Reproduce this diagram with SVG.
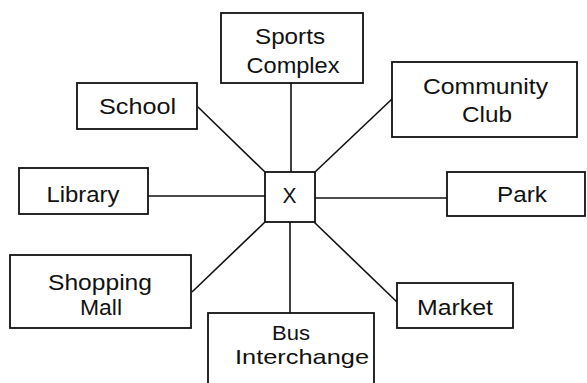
<svg xmlns="http://www.w3.org/2000/svg" width="587" height="383" viewBox="0 0 587 383">
<style>
.box{fill:#fff;stroke:#111;stroke-width:1.8}
.ln{stroke:#111;stroke-width:1.6;fill:none}
text{font-family:"Liberation Sans",Arial,sans-serif;font-size:22px;fill:#111;text-anchor:middle}
.sm{font-size:21px}
</style>
<rect width="587" height="383" fill="#fff"/>
<g id="connectors">
<line class="ln" x1="291" y1="83" x2="291" y2="172"/>
<line class="ln" x1="198" y1="107" x2="265" y2="172"/>
<line class="ln" x1="148" y1="196" x2="265" y2="196"/>
<line class="ln" x1="392" y1="99" x2="315" y2="172"/>
<line class="ln" x1="315" y1="198" x2="447" y2="198"/>
<line class="ln" x1="192" y1="292" x2="265" y2="222"/>
<line class="ln" x1="290" y1="222" x2="290" y2="313"/>
<line class="ln" x1="314" y1="222" x2="397" y2="302"/>
</g>
<g id="sports">
<rect class="box" x="221" y="13" width="142" height="70"/>
<text x="290" y="44" textLength="70" lengthAdjust="spacingAndGlyphs">Sports</text>
<text x="293" y="73" textLength="93" lengthAdjust="spacingAndGlyphs">Complex</text>
</g>
<g id="school">
<rect class="box" x="77" y="83" width="120" height="46"/>
<text x="137.5" y="114" textLength="77" lengthAdjust="spacingAndGlyphs">School</text>
</g>
<g id="community">
<rect class="box" x="392" y="62" width="185" height="75"/>
<text x="485.5" y="94" textLength="125" lengthAdjust="spacingAndGlyphs">Community</text>
<text x="487" y="122" textLength="50" lengthAdjust="spacingAndGlyphs">Club</text>
</g>
<g id="library">
<rect class="box" x="19" y="168" width="129" height="46"/>
<text x="83" y="202" textLength="73" lengthAdjust="spacingAndGlyphs">Library</text>
</g>
<g id="x">
<rect class="box" x="265" y="172" width="50" height="50"/>
<text x="289.5" y="203" textLength="14" lengthAdjust="spacingAndGlyphs">X</text>
</g>
<g id="park">
<rect class="box" x="447" y="172" width="138" height="44"/>
<text x="522" y="202" textLength="50" lengthAdjust="spacingAndGlyphs">Park</text>
</g>
<g id="shopping">
<rect class="box" x="10" y="255" width="181" height="73"/>
<text x="100" y="290" textLength="104" lengthAdjust="spacingAndGlyphs">Shopping</text>
<text x="101" y="315" textLength="42" lengthAdjust="spacingAndGlyphs">Mall</text>
</g>
<g id="market">
<rect class="box" x="397" y="283" width="116" height="45"/>
<text x="455" y="315" textLength="76" lengthAdjust="spacingAndGlyphs">Market</text>
</g>
<g id="bus">
<rect class="box" x="208" y="313" width="166" height="80"/>
<text class="sm" x="291" y="340" textLength="38" lengthAdjust="spacingAndGlyphs">Bus</text>
<text class="sm" x="302" y="364" textLength="134" lengthAdjust="spacingAndGlyphs">Interchange</text>
</g>
</svg>
